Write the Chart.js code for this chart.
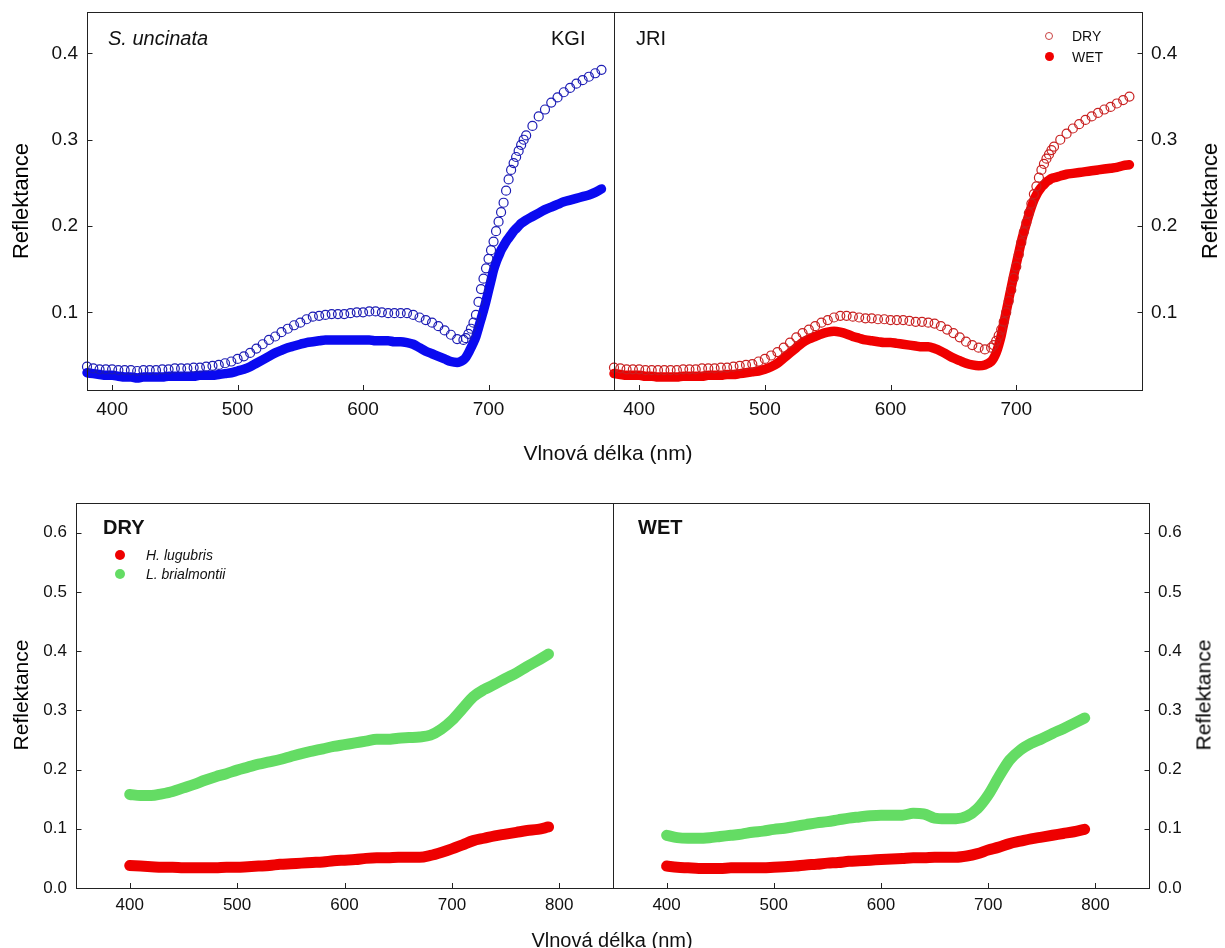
<!DOCTYPE html>
<html>
<head>
<meta charset="utf-8">
<script src="https://cdn.jsdelivr.net/npm/chart.js@4.4.1/dist/chart.umd.min.js"></script>
<style>
  body { margin: 0; background: #fff; width: 1225px; height: 948px; overflow: hidden; position: relative;
         font-family: "Liberation Sans", Arial, sans-serif; color: #111; }
  canvas { position: absolute; left: 0; top: 0; }
  .t { position: absolute; white-space: nowrap; line-height: 1; }
  .c { transform: translate(-50%, -50%); }
  .r { transform: translate(-50%, -50%) rotate(-90deg); color: #000; }
  .dot { position: absolute; border-radius: 50%; box-sizing: border-box; }
</style>
</head>
<body>
<canvas id="kgi" width="1225" height="948"></canvas>
<canvas id="jri" width="1225" height="948"></canvas>
<canvas id="dry" width="1225" height="948"></canvas>
<canvas id="wet" width="1225" height="948"></canvas>

<!-- panel labels -->
<div class="t" style="left:108px;top:28px;font-size:20px;font-style:italic">S. uncinata</div>
<div class="t" style="left:551px;top:28px;font-size:20px">KGI</div>
<div class="t" style="left:636px;top:28px;font-size:20px">JRI</div>
<div class="t" style="left:103px;top:517px;font-size:20px;font-weight:bold">DRY</div>
<div class="t" style="left:638px;top:517px;font-size:20px;font-weight:bold">WET</div>

<!-- legends -->
<div class="dot" style="left:1045px;top:32px;width:8px;height:8px;border:1px solid #c84040"></div>
<div class="t" style="left:1072px;top:29px;font-size:14px">DRY</div>
<div class="dot" style="left:1044.5px;top:52px;width:9px;height:9px;background:#f00000"></div>
<div class="t" style="left:1072px;top:49.5px;font-size:14px">WET</div>
<div class="dot" style="left:115px;top:550px;width:10px;height:10px;background:#ee0000"></div>
<div class="t" style="left:146px;top:548px;font-size:14px;font-style:italic">H. lugubris</div>
<div class="dot" style="left:115px;top:569px;width:10px;height:10px;background:#64dc64"></div>
<div class="t" style="left:146px;top:567px;font-size:14px;font-style:italic">L. brialmontii</div>

<!-- axis titles -->
<div class="t r" style="left:21px;top:201px;font-size:22px">Reflektance</div>
<div class="t r" style="left:1210px;top:201px;font-size:22px">Reflektance</div>
<div class="t r" style="left:20px;top:695px;font-size:21px">Reflektance</div>
<div class="t r" style="left:1203px;top:695px;font-size:21px">Reflektance</div>
<div class="t c" style="left:608px;top:452px;font-size:21px">Vlnová délka (nm)</div>
<div class="t c" style="left:612px;top:940px;font-size:20px">Vlnová délka (nm)</div>

<script>
// wavelengths of the top (S. uncinata) panels, denser on the red edge
const wlTop = [380, 385, 390, 395, 400, 405, 410, 415, 420, 425, 430, 435, 440, 445, 450, 455, 460, 465, 470, 475,
  480, 485, 490, 495, 500, 505, 510, 515, 520, 525, 530, 535, 540, 545, 550, 555, 560, 565, 570, 575,
  580, 585, 590, 595, 600, 605, 610, 615, 620, 625, 630, 635, 640, 645, 650, 655, 660, 665, 670, 675, 680,
  682, 684, 686, 688, 690, 692, 694, 696, 698, 700, 702, 704, 706, 708, 710, 712, 714, 716, 718, 720,
  722, 724, 726, 728, 730,
  735, 740, 745, 750, 755, 760, 765, 770, 775, 780, 785, 790];

const kgiDry = [0.037, 0.035, 0.034, 0.034, 0.034, 0.033, 0.033, 0.033, 0.032, 0.033, 0.033, 0.033, 0.034, 0.034, 0.035, 0.035, 0.035, 0.036, 0.036, 0.037,
  0.038, 0.039, 0.041, 0.043, 0.046, 0.049, 0.053, 0.058, 0.063, 0.068, 0.072, 0.077, 0.081, 0.085, 0.088, 0.092, 0.095, 0.096, 0.097, 0.098,
  0.098, 0.098, 0.099, 0.100, 0.100, 0.101, 0.101, 0.100, 0.099, 0.099, 0.099, 0.099, 0.097, 0.094, 0.091, 0.088, 0.084, 0.079, 0.074, 0.069, 0.068,
  0.070, 0.075, 0.081, 0.088, 0.097, 0.112, 0.127, 0.139, 0.151, 0.162, 0.172, 0.182, 0.194, 0.205, 0.216, 0.227, 0.241, 0.254, 0.265, 0.273,
  0.280, 0.287, 0.294, 0.300, 0.305,
  0.316, 0.327, 0.335, 0.343, 0.349, 0.355, 0.360, 0.365, 0.369, 0.373, 0.377, 0.381];

const kgiWet = [0.030, 0.029, 0.028, 0.027, 0.027, 0.026, 0.025, 0.025, 0.024, 0.025, 0.025, 0.025, 0.025, 0.026, 0.026, 0.026, 0.026, 0.026, 0.027, 0.027,
  0.027, 0.028, 0.029, 0.030, 0.032, 0.034, 0.037, 0.041, 0.045, 0.049, 0.053, 0.056, 0.059, 0.061, 0.063, 0.065, 0.066, 0.067, 0.068, 0.068,
  0.068, 0.068, 0.068, 0.068, 0.068, 0.068, 0.067, 0.067, 0.067, 0.066, 0.066, 0.065, 0.063, 0.059, 0.055, 0.052, 0.049, 0.046, 0.043, 0.042, 0.045,
  0.048, 0.053, 0.059, 0.065, 0.072, 0.082, 0.092, 0.102, 0.113, 0.125, 0.137, 0.149, 0.158, 0.165, 0.172, 0.177, 0.182, 0.186, 0.190, 0.194,
  0.197, 0.200, 0.203, 0.205, 0.207,
  0.211, 0.215, 0.219, 0.222, 0.225, 0.228, 0.230, 0.232, 0.234, 0.236, 0.239, 0.243];

const jriDry = [0.036, 0.035, 0.034, 0.034, 0.034, 0.033, 0.033, 0.033, 0.033, 0.033, 0.033, 0.034, 0.034, 0.034, 0.035, 0.035, 0.035, 0.036, 0.036, 0.037,
  0.038, 0.039, 0.040, 0.043, 0.046, 0.050, 0.054, 0.059, 0.065, 0.071, 0.076, 0.080, 0.084, 0.088, 0.091, 0.094, 0.096, 0.096, 0.095, 0.094,
  0.093, 0.093, 0.092, 0.092, 0.091, 0.091, 0.091, 0.090, 0.089, 0.089, 0.088, 0.087, 0.084, 0.080, 0.076, 0.071, 0.066, 0.062, 0.059, 0.057, 0.059,
  0.062, 0.067, 0.073, 0.080, 0.089, 0.100, 0.113, 0.126, 0.140, 0.153, 0.167, 0.181, 0.193, 0.204, 0.215, 0.226, 0.237, 0.246, 0.256, 0.265,
  0.272, 0.278, 0.283, 0.288, 0.292,
  0.300, 0.307, 0.313, 0.318, 0.323, 0.327, 0.331, 0.335, 0.338, 0.342, 0.346, 0.350];

const jriWet = [0.029, 0.028, 0.027, 0.027, 0.027, 0.026, 0.026, 0.025, 0.025, 0.025, 0.025, 0.026, 0.026, 0.026, 0.026, 0.027, 0.027, 0.027, 0.028, 0.028,
  0.029, 0.030, 0.031, 0.032, 0.034, 0.037, 0.041, 0.047, 0.053, 0.059, 0.065, 0.069, 0.072, 0.075, 0.077, 0.078, 0.077, 0.075, 0.072, 0.070,
  0.068, 0.067, 0.066, 0.065, 0.065, 0.064, 0.063, 0.062, 0.061, 0.060, 0.060, 0.058, 0.055, 0.051, 0.047, 0.044, 0.041, 0.039, 0.038, 0.039, 0.043,
  0.047, 0.053, 0.062, 0.073, 0.087, 0.101, 0.115, 0.129, 0.143, 0.156, 0.169, 0.182, 0.193, 0.203, 0.213, 0.222, 0.230, 0.236, 0.241, 0.245,
  0.248, 0.251, 0.253, 0.255, 0.256,
  0.258, 0.260, 0.261, 0.262, 0.263, 0.264, 0.265, 0.266, 0.267, 0.268, 0.270, 0.271];

// wavelengths of the bottom (DRY / WET) panels
const wlBottom = [400, 410, 420, 430, 440, 450, 460, 470, 480, 490, 500, 510, 520, 530, 540, 550, 560, 570, 580, 590,
  600, 610, 620, 630, 640, 650, 660, 670, 680, 690, 700, 710, 720, 730, 740, 750, 760, 770, 780, 790];

const dryLugubris = [0.038, 0.037, 0.036, 0.035, 0.035, 0.034, 0.034, 0.034, 0.034, 0.035, 0.035, 0.036, 0.037, 0.038, 0.040, 0.041, 0.042, 0.043, 0.044, 0.046,
  0.047, 0.048, 0.050, 0.051, 0.051, 0.052, 0.052, 0.052, 0.055, 0.060, 0.066, 0.073, 0.080, 0.084, 0.088, 0.091, 0.094, 0.097, 0.099, 0.103];
const dryBrialmontii = [0.158, 0.156, 0.156, 0.159, 0.163, 0.169, 0.175, 0.182, 0.188, 0.193, 0.199, 0.204, 0.209, 0.213, 0.217, 0.222, 0.227, 0.231, 0.235, 0.239,
  0.242, 0.245, 0.248, 0.251, 0.251, 0.253, 0.254, 0.255, 0.258, 0.268, 0.283, 0.303, 0.323, 0.335, 0.344, 0.354, 0.363, 0.374, 0.384, 0.395];
const wetLugubris = [0.037, 0.035, 0.034, 0.033, 0.033, 0.033, 0.034, 0.034, 0.034, 0.034, 0.035, 0.036, 0.037, 0.039, 0.040, 0.042, 0.043, 0.045, 0.046, 0.047,
  0.048, 0.049, 0.050, 0.051, 0.051, 0.052, 0.052, 0.052, 0.054, 0.058, 0.064, 0.069, 0.075, 0.079, 0.083, 0.086, 0.089, 0.092, 0.095, 0.099];
const wetBrialmontii = [0.089, 0.085, 0.084, 0.084, 0.085, 0.087, 0.089, 0.091, 0.094, 0.096, 0.099, 0.101, 0.104, 0.107, 0.110, 0.112, 0.115, 0.118, 0.120, 0.122,
  0.123, 0.123, 0.123, 0.126, 0.125, 0.118, 0.117, 0.117, 0.121, 0.134, 0.157, 0.188, 0.216, 0.233, 0.244, 0.252, 0.261, 0.269, 0.278, 0.287];

// tick labels
const xTicksTop = [400, 500, 600, 700];
const yTicksTop = [0.1, 0.2, 0.3, 0.4];
const xTicksBottom = [400, 500, 600, 700, 800];
const yTicksBottom = [0.0, 0.1, 0.2, 0.3, 0.4, 0.5, 0.6];

const FONT = '"Liberation Sans", Arial, sans-serif';

function pts(xs, ys) {
  return xs.map((x, i) => ({ x: x, y: ys[i] }));
}

// box round the plot area + short inward tick marks
const frameTicks = {
  id: 'frameTicks',
  afterDraw(chart) {
    const { ctx, chartArea: a, scales } = chart;
    ctx.save();
    ctx.strokeStyle = '#222';
    ctx.lineWidth = 1;
    ctx.strokeRect(Math.round(a.left) + 0.5, Math.round(a.top) + 0.5,
      Math.round(a.right - a.left), Math.round(a.bottom - a.top));
    ctx.beginPath();
    scales.x.ticks.forEach(t => {
      const px = Math.round(scales.x.getPixelForValue(t.value)) + 0.5;
      ctx.moveTo(px, a.bottom);
      ctx.lineTo(px, a.bottom - 5);
    });
    const ys = scales.y;
    const onRight = ys.options.position === 'right';
    ys.ticks.forEach(t => {
      const py = Math.round(ys.getPixelForValue(t.value)) + 0.5;
      const x0 = onRight ? Math.round(a.right) + 0.5 : Math.round(a.left) + 0.5;
      ctx.moveTo(x0, py);
      ctx.lineTo(onRight ? x0 - 5 : x0 + 5, py);
    });
    ctx.stroke();
    ctx.restore();
  }
};

function axis(pos, min, max, ticks, size, pad, digits) {
  return {
    type: 'linear',
    position: pos,
    min: min,
    max: max,
    afterBuildTicks: s => { s.ticks = ticks.map(v => ({ value: v })); },
    afterFit: s => {
      if (pos === 'bottom') s.height = 40; else s.width = 40;
      // keep the plot box where the layout padding puts it
      s.paddingTop = 0; s.paddingBottom = 0; s.paddingLeft = 0; s.paddingRight = 0;
    },
    grid: { display: false, drawTicks: false },
    border: { display: false },
    ticks: {
      padding: pad,
      autoSkip: false,
      maxRotation: 0,
      color: '#111',
      font: { family: FONT, size: size },
      callback: v => digits ? v.toFixed(digits) : String(v)
    }
  };
}

function hollow(data, color) {
  return {
    data: data, showLine: false, pointStyle: 'circle',
    pointRadius: 4.5, pointHoverRadius: 4.5, pointBorderWidth: 1.2,
    pointBorderColor: color, pointBackgroundColor: 'rgba(0,0,0,0)', clip: false
  };
}

function band(data, color, width) {
  return {
    data: data, borderColor: color, borderWidth: width, pointRadius: 0, pointHoverRadius: 0,
    cubicInterpolationMode: 'monotone', borderCapStyle: 'round', borderJoinStyle: 'round',
    fill: false, clip: false
  };
}

function panel(id, pad, xs, ys, datasets) {
  return new Chart(document.getElementById(id), {
    type: 'line',
    data: { datasets: datasets },
    options: {
      responsive: false,
      animation: false,
      devicePixelRatio: 1,
      events: [],
      layout: { padding: pad },
      plugins: { legend: { display: false }, tooltip: { enabled: false } },
      scales: { x: xs, y: ys }
    },
    plugins: [frameTicks]
  });
}

// S. uncinata, KGI
panel('kgi', { left: 47, right: 611, top: 12, bottom: 518 },
  axis('bottom', 380, 800, xTicksTop, 19, 8, 0),
  axis('left', 0.01, 0.448, yTicksTop, 19, 9, 1),
  [hollow(pts(wlTop, kgiDry), '#1c1cb4'), band(pts(wlTop, kgiWet), '#0a0af0', 9.5)]);

// S. uncinata, JRI
panel('jri', { left: 614, right: 43, top: 12, bottom: 518 },
  axis('bottom', 380, 800, xTicksTop, 19, 8, 0),
  axis('right', 0.01, 0.448, yTicksTop, 19, 9, 1),
  [hollow(pts(wlTop, jriDry), '#c82020'), band(pts(wlTop, jriWet), '#f00000', 9.5)]);

// DRY: H. lugubris / L. brialmontii
panel('dry', { left: 36, right: 612, top: 503, bottom: 20 },
  axis('bottom', 350, 850, xTicksBottom, 17, 7, 0),
  axis('left', 0, 0.65, yTicksBottom, 17, 9, 1),
  [band(pts(wlBottom, dryLugubris), '#ee0000', 11), band(pts(wlBottom, dryBrialmontii), '#64dc64', 11)]);

// WET: H. lugubris / L. brialmontii
panel('wet', { left: 613, right: 36, top: 503, bottom: 20 },
  axis('bottom', 350, 850, xTicksBottom, 17, 7, 0),
  axis('right', 0, 0.65, yTicksBottom, 17, 9, 1),
  [band(pts(wlBottom, wetLugubris), '#ee0000', 11), band(pts(wlBottom, wetBrialmontii), '#64dc64', 11)]);
</script>
</body>
</html>
